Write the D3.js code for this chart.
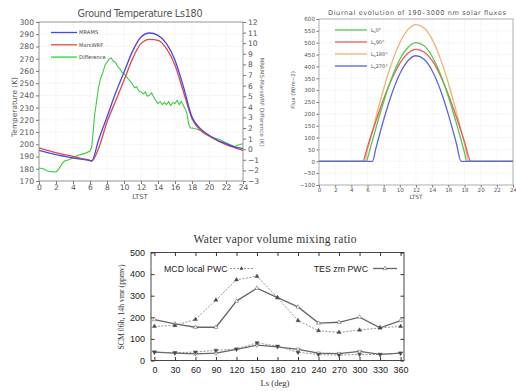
<!DOCTYPE html>
<html>
<head>
<meta charset="utf-8">
<script src="https://cdn.jsdelivr.net/npm/d3@7"></script>
<style>
  body { margin: 0; background: #fff; }
  svg { display: block; }
  .gtick text { font-family: "DejaVu Sans", sans-serif; fill: #555; }
  .gtick line { stroke: #777; }
  .btick text { font-family: "Liberation Sans", Arial, sans-serif; fill: #222; }
</style>
</head>
<body>
<svg id="fig" width="516" height="391"></svg>
<script>
// ---------- panel 1: ground temperature Ls180 ----------
const tempHours = [0, 1, 2, 3, 4, 5, 6, 6.2, 7, 8, 9, 10, 11, 12, 13, 14, 15, 16, 17, 18, 19, 20, 21, 22, 23, 24];
const mramsT   = [195, 193.2, 191.6, 190.2, 188.9, 187.8, 186.7, 186.4, 203.3, 222.3, 241.7, 259, 276, 287.7, 291, 289.1, 282.3, 268.7, 246.9, 222.3, 212.8, 207.4, 203.3, 200.6, 197.8, 196.5];
const marswrfT = [197, 195.1, 193.2, 191.6, 190.2, 188.3, 186.9, 186.3, 196.5, 218.2, 235.2, 252.3, 270, 282.3, 285.8, 285, 278.2, 264.6, 242.8, 221, 211.4, 206.8, 203, 199.8, 197.3, 195.1];
// MRAMS - MarsWRF difference (K), [hour, value]
const diffK = [
  [0, -1.78], [0.5, -1.84], [1, -2.05], [1.5, -2.12], [2, -2.15], [2.3, -1.9], [2.7, -1.36], [3, -1.12],
  [3.5, -1.0], [4, -0.84], [4.5, -0.6], [5, -0.49], [5.5, -0.37], [6, -0.18], [6.2, 0.2], [6.4, 1.9],
  [6.55, 3.3], [6.7, 4.1], [6.85, 5.0], [7, 5.8], [7.25, 6.7], [7.5, 7.2], [7.75, 7.9], [8, 8.2],
  [8.25, 8.5], [8.5, 8.6], [8.75, 8.3], [9, 8.2], [9.25, 7.8], [9.5, 7.6], [9.75, 7.3], [10, 7.1],
  [10.25, 6.9], [10.5, 6.6], [10.75, 6.4], [11, 6.15], [11.25, 5.8], [11.5, 5.9], [11.75, 5.5], [12, 5.4],
  [12.25, 5.2], [12.5, 5.4], [12.75, 5.0], [13, 5.1], [13.25, 5.3], [13.5, 4.9], [13.75, 4.6], [14, 4.3],
  [14.25, 4.5], [14.5, 4.2], [14.75, 4.4], [15, 4.2], [15.25, 4.5], [15.5, 4.1], [15.75, 4.4], [16, 4.3],
  [16.25, 4.6], [16.5, 4.2], [16.75, 4.5], [17, 4.1], [17.2, 3.8], [17.4, 3.4], [17.6, 2.4], [17.8, 2.0],
  [18, 2.0], [18.5, 1.9], [19, 1.76], [19.5, 1.5], [20, 1.29], [20.5, 1.1], [21, 0.98], [21.5, 0.8],
  [22, 0.6], [22.5, 0.42], [23, 0.26], [23.5, 0.42], [24, 0.51]
];
const tempLegend = ['MRAMS', 'MarsWRF', 'Difference'];

// ---------- panel 2: diurnal solar flux (W/m2), [hour, flux] ----------
const fluxLs0 = [[0, 0], [5.9, 0], [6, 12], [7, 135], [8, 251], [9, 352], [10, 430], [11, 480], [12, 500], [13, 487], [14, 442], [15, 369], [16, 273], [17, 160], [18, 37], [18.3, 0], [24, 0]];
const fluxLs90 = [[0, 0], [5.4, 0], [6, 62], [7, 166], [8, 263], [9, 347], [10, 413], [11, 456], [12, 472], [13, 461], [14, 424], [15, 362], [16, 281], [17, 186], [18, 83], [18.8, 0], [24, 0]];
const fluxLs180 = [[0, 0], [5.65, 0], [6, 47], [7, 181], [8, 306], [9, 415], [10, 500], [11, 555], [12, 576], [13, 562], [14, 514], [15, 434], [16, 330], [17, 207], [18, 74], [18.55, 0], [24, 0]];
const fluxLs270 = [[0, 0], [6.63, 0], [7, 49], [8, 175], [9, 284], [10, 369], [11, 424], [12, 445], [13, 430], [14, 382], [15, 303], [16, 198], [17, 75], [17.57, 0], [24, 0]];
const fluxLegend = ['0°', '90°', '180°', '270°'];

// ---------- panel 3: water vapour vmr (ppmv) ----------
const lsDeg = [0, 30, 60, 90, 120, 150, 180, 210, 240, 270, 300, 330, 360];
const mcd14h = [158, 162, 190, 280, 374, 390, 291, 185, 138, 130, 141, 151, 158];
const tes14h = [189, 170, 154, 154, 275, 335, 291, 248, 173, 177, 201, 151, 185];
const mcd06h = [39, 36, 39, 47, 53, 82, 66, 38, 28, 25, 28, 28, 34];
const tes06h = [39, 34, 31, 34, 52, 71, 63, 52, 34, 32, 42, 28, 34];

const svg = d3.select('#fig');

// ======================= panel 1 =======================
const p1 = { left: 39, right: 243, top: 22, bottom: 181 };
const x1 = d3.scaleLinear().domain([0, 24]).range([p1.left, p1.right]);
const yT = d3.scaleLinear().domain([170, 300]).range([p1.bottom, p1.top]);
const yD = d3.scaleLinear().domain([-3, 12]).range([p1.bottom, p1.top]);
const g1 = svg.append('g');

g1.append('g').selectAll('line').data(d3.range(2, 24, 2)).join('line')
  .attr('x1', d => x1(d)).attr('x2', d => x1(d)).attr('y1', p1.top).attr('y2', p1.bottom)
  .attr('stroke', '#e2e2e2').attr('stroke-width', 0.6).attr('stroke-dasharray', '1,1');
g1.append('g').selectAll('line').data(d3.range(180, 300, 10)).join('line')
  .attr('x1', p1.left).attr('x2', p1.right).attr('y1', d => yT(d)).attr('y2', d => yT(d))
  .attr('stroke', '#e2e2e2').attr('stroke-width', 0.6).attr('stroke-dasharray', '1,1');

const ax1l = g1.append('g').attr('class', 'gtick').attr('transform', `translate(${p1.left},0)`)
  .call(d3.axisLeft(yT).tickValues(d3.range(170, 301, 10)).tickSize(3).tickPadding(2));
const ax1r = g1.append('g').attr('class', 'gtick').attr('transform', `translate(${p1.right},0)`)
  .call(d3.axisRight(yD).tickValues(d3.range(-3, 13, 1)).tickSize(3).tickPadding(2).tickFormat(d => d < 0 ? '\u2212' + Math.abs(d) : d));
const ax1b = g1.append('g').attr('class', 'gtick').attr('transform', `translate(0,${p1.bottom})`)
  .call(d3.axisBottom(x1).tickValues(d3.range(0, 25, 2)).tickSize(3).tickPadding(0.5));
[ax1l, ax1r, ax1b].forEach(a => { a.select('.domain').remove(); a.selectAll('text').attr('font-size', 7.6); });
g1.append('rect').attr('x', p1.left).attr('y', p1.top).attr('width', p1.right - p1.left).attr('height', p1.bottom - p1.top)
  .attr('fill', 'none').attr('stroke', '#888').attr('stroke-width', 0.9);

const lineT = d3.line().x((d, i) => x1(tempHours[i])).y(d => yT(d)).curve(d3.curveMonotoneX);
g1.append('path').datum(diffK).attr('fill', 'none').attr('stroke', '#3ccc3c').attr('stroke-width', 1.1)
  .attr('d', d3.line().x(d => x1(d[0])).y(d => yD(d[1])));
g1.append('path').datum(marswrfT).attr('fill', 'none').attr('stroke', '#e04848').attr('stroke-width', 1.3).attr('d', lineT);
g1.append('path').datum(mramsT).attr('fill', 'none').attr('stroke', '#4848e0').attr('stroke-width', 1.3).attr('d', lineT);

const c1 = ['#4848e0', '#e04848', '#3ccc3c'];
const leg1 = g1.append('g').selectAll('g').data(tempLegend).join('g')
  .attr('transform', (d, i) => `translate(51,${32.5 + i * 12.3})`);
leg1.append('line').attr('x1', 0).attr('x2', 26).attr('stroke', (d, i) => c1[i]).attr('stroke-width', 1.3);
leg1.append('text').attr('x', 28).attr('y', 1.8).attr('font-size', 5.2).attr('fill', '#444')
  .attr('font-family', 'DejaVu Sans, sans-serif').text(d => d);

g1.append('text').attr('x', 140).attr('y', 17).attr('text-anchor', 'middle').attr('font-size', 9.6)
  .attr('font-family', 'DejaVu Sans, sans-serif').attr('fill', '#555').attr('textLength', 125).text('Ground Temperature Ls180');
g1.append('text').attr('transform', 'translate(17,107) rotate(-90)').attr('text-anchor', 'middle').attr('font-size', 7.4)
  .attr('font-family', 'DejaVu Sans, sans-serif').attr('fill', '#555').text('Temperature (K)');
g1.append('text').attr('x', 140).attr('y', 199).attr('text-anchor', 'middle').attr('font-size', 6.8)
  .attr('font-family', 'DejaVu Sans, sans-serif').attr('fill', '#555').text('LTST');
g1.append('text').attr('transform', 'translate(260,102) rotate(90)').attr('text-anchor', 'middle').attr('font-size', 5.6)
  .attr('font-family', 'DejaVu Sans, sans-serif').attr('fill', '#666').text('MRAMS-MarsWRF Difference (K)');

// ======================= panel 2 =======================
const p2 = { left: 319, right: 513, top: 19, bottom: 185 };
const x2 = d3.scaleLinear().domain([0, 24]).range([p2.left, p2.right]);
const yF = d3.scaleLinear().domain([-100, 600]).range([p2.bottom, p2.top]);
const g2 = svg.append('g');

g2.append('g').selectAll('line').data(d3.range(2, 24, 2)).join('line')
  .attr('x1', d => x2(d)).attr('x2', d => x2(d)).attr('y1', p2.top).attr('y2', p2.bottom)
  .attr('stroke', '#e6e6e6').attr('stroke-width', 0.6).attr('stroke-dasharray', '1,1');
g2.append('g').selectAll('line').data(d3.range(-50, 600, 50)).join('line')
  .attr('x1', p2.left).attr('x2', p2.right).attr('y1', d => yF(d)).attr('y2', d => yF(d))
  .attr('stroke', '#e6e6e6').attr('stroke-width', 0.6).attr('stroke-dasharray', '1,1');

const ax2l = g2.append('g').attr('class', 'gtick').attr('transform', `translate(${p2.left},0)`)
  .call(d3.axisLeft(yF).tickValues(d3.range(-100, 601, 50)).tickSize(2.5).tickPadding(1.5).tickFormat(d => d < 0 ? '\u2212' + Math.abs(d) : d));
const ax2b = g2.append('g').attr('class', 'gtick').attr('transform', `translate(0,${p2.bottom})`)
  .call(d3.axisBottom(x2).tickValues(d3.range(0, 25, 2)).tickSize(2.5).tickPadding(1));
[ax2l, ax2b].forEach(a => { a.select('.domain').remove(); a.selectAll('text').attr('font-size', 5.6); });
g2.append('rect').attr('x', p2.left).attr('y', p2.top).attr('width', p2.right - p2.left).attr('height', p2.bottom - p2.top)
  .attr('fill', 'none').attr('stroke', '#999').attr('stroke-width', 0.8);

const lineF = d3.line().x(d => x2(d[0])).y(d => yF(d[1])).curve(d3.curveMonotoneX);
const c2 = ['#55c855', '#e85a5a', '#f0b470', '#5a64e6'];
[fluxLs180, fluxLs90, fluxLs0, fluxLs270].forEach((s, i) => {
  const col = [c2[2], c2[1], c2[0], c2[3]][i];
  g2.append('path').datum(s).attr('fill', 'none').attr('stroke', col).attr('stroke-width', 1.3).attr('d', lineF);
});

const leg2 = g2.append('g').selectAll('g').data(fluxLegend).join('g')
  .attr('transform', (d, i) => `translate(335,${30 + i * 12})`);
leg2.append('line').attr('x1', 0).attr('x2', 32).attr('stroke', (d, i) => c2[i]).attr('stroke-width', 1.3);
const lt = leg2.append('text').attr('x', 36).attr('y', 1.6).attr('font-size', 5).attr('fill', '#555')
  .attr('font-family', 'DejaVu Sans, sans-serif');
lt.append('tspan').text('L');
lt.append('tspan').attr('font-size', 3.6).attr('dy', 1).text('s');
lt.append('tspan').attr('dy', -1).text(d => d);

g2.append('text').attr('x', 417).attr('y', 15).attr('text-anchor', 'middle').attr('font-size', 6.6)
  .attr('font-family', 'DejaVu Sans, sans-serif').attr('fill', '#555').attr('textLength', 178)
  .text('Diurnal evolution of 190\u20133000 nm solar fluxes');
g2.append('text').attr('transform', 'translate(295,90) rotate(-90)').attr('text-anchor', 'middle').attr('font-size', 5.4)
  .attr('font-family', 'DejaVu Sans, sans-serif').attr('fill', '#555').text('Flux (W/m\u22122)');
g2.append('text').attr('x', 416).attr('y', 199).attr('text-anchor', 'middle').attr('font-size', 5.8)
  .attr('font-family', 'DejaVu Sans, sans-serif').attr('fill', '#555').text('LTST');

// ======================= panel 3 =======================
const p3 = { left: 151, right: 404, top: 252.5, bottom: 360.5 };
const x3 = d3.scaleLinear().domain([-5, 365]).range([p3.left, p3.right]);
const yV = d3.scaleLinear().domain([0, 500]).range([p3.bottom, p3.top]);
const g3 = svg.append('g');

g3.append('rect').attr('x', p3.left).attr('y', p3.top).attr('width', p3.right - p3.left).attr('height', p3.bottom - p3.top)
  .attr('fill', 'none').attr('stroke', '#333').attr('stroke-width', 0.9);
const ax3b = g3.append('g').attr('class', 'btick').attr('transform', `translate(0,${p3.bottom})`)
  .call(d3.axisBottom(x3).tickValues(lsDeg).tickSizeInner(-3.5).tickSizeOuter(0).tickPadding(6));
const ax3t = g3.append('g').attr('transform', `translate(0,${p3.top})`)
  .call(d3.axisTop(x3).tickValues(lsDeg).tickSizeInner(-3.5).tickSizeOuter(0).tickFormat(''));
const ax3l = g3.append('g').attr('class', 'btick').attr('transform', `translate(${p3.left},0)`)
  .call(d3.axisLeft(yV).tickValues(d3.range(0, 501, 100)).tickSizeInner(-3.5).tickSizeOuter(0).tickPadding(6));
const ax3r = g3.append('g').attr('transform', `translate(${p3.right},0)`)
  .call(d3.axisRight(yV).tickValues(d3.range(0, 501, 100)).tickSizeInner(-3.5).tickSizeOuter(0).tickFormat(''));
[ax3b, ax3t, ax3l, ax3r].forEach(a => {
  a.select('.domain').remove();
  a.selectAll('line').attr('stroke', '#333');
  a.selectAll('text').attr('font-size', 9);
});

const lineV = d3.line().x((d, i) => x3(lsDeg[i])).y(d => yV(d));
const tri = d3.symbol().type(d3.symbolTriangle).size(7);
function series(vals, dashed, filled, down) {
  g3.append('path').datum(vals).attr('fill', 'none').attr('stroke', dashed ? '#777' : '#666')
    .attr('stroke-width', dashed ? 0.8 : 1.3).attr('stroke-dasharray', dashed ? '2,1.5' : null).attr('d', lineV);
  g3.append('g').selectAll('path').data(vals).join('path')
    .attr('transform', (d, i) => `translate(${x3(lsDeg[i])},${yV(d)})${down ? ' rotate(180)' : ''}`)
    .attr('d', tri).attr('fill', filled ? '#444' : '#fff').attr('stroke', '#555').attr('stroke-width', 0.5);
}
series(tes06h, false, false, true);
series(mcd06h, true, true, true);
series(tes14h, false, false, false);
series(mcd14h, true, true, false);

// legend
g3.append('text').attr('x', 164).attr('y', 271.5).attr('font-size', 8.8)
  .attr('font-family', 'Liberation Sans, Arial, sans-serif').attr('fill', '#222').text('MCD local PWC');
g3.append('line').attr('x1', 230).attr('x2', 253).attr('y1', 268.5).attr('y2', 268.5)
  .attr('stroke', '#777').attr('stroke-width', 0.8).attr('stroke-dasharray', '2,1.5');
g3.append('path').attr('transform', 'translate(241.5,268.5)').attr('d', tri).attr('fill', '#444');
g3.append('text').attr('x', 368).attr('y', 271.5).attr('text-anchor', 'end').attr('font-size', 8.8)
  .attr('font-family', 'Liberation Sans, Arial, sans-serif').attr('fill', '#222').text('TES zm PWC');
g3.append('line').attr('x1', 373).attr('x2', 397).attr('y1', 268.5).attr('y2', 268.5)
  .attr('stroke', '#666').attr('stroke-width', 1.3);
g3.append('path').attr('transform', 'translate(385,268.5)').attr('d', tri).attr('fill', '#fff').attr('stroke', '#555').attr('stroke-width', 0.5);

g3.append('text').attr('x', 275).attr('y', 243).attr('text-anchor', 'middle').attr('font-size', 11.5)
  .attr('font-family', 'Liberation Serif, Times New Roman, serif').attr('fill', '#333').attr('textLength', 163)
  .text('Water vapor volume mixing ratio');
g3.append('text').attr('x', 275).attr('y', 386).attr('text-anchor', 'middle').attr('font-size', 8.6)
  .attr('font-family', 'Liberation Serif, Times New Roman, serif').attr('fill', '#333').text('Ls (deg)');
g3.append('text').attr('transform', 'translate(124,307) rotate(-90)').attr('text-anchor', 'middle').attr('font-size', 7.8)
  .attr('font-family', 'Liberation Serif, Times New Roman, serif').attr('fill', '#333').text('SCM 06h, 14h vmr (ppmv)');
</script>
</body>
</html>
